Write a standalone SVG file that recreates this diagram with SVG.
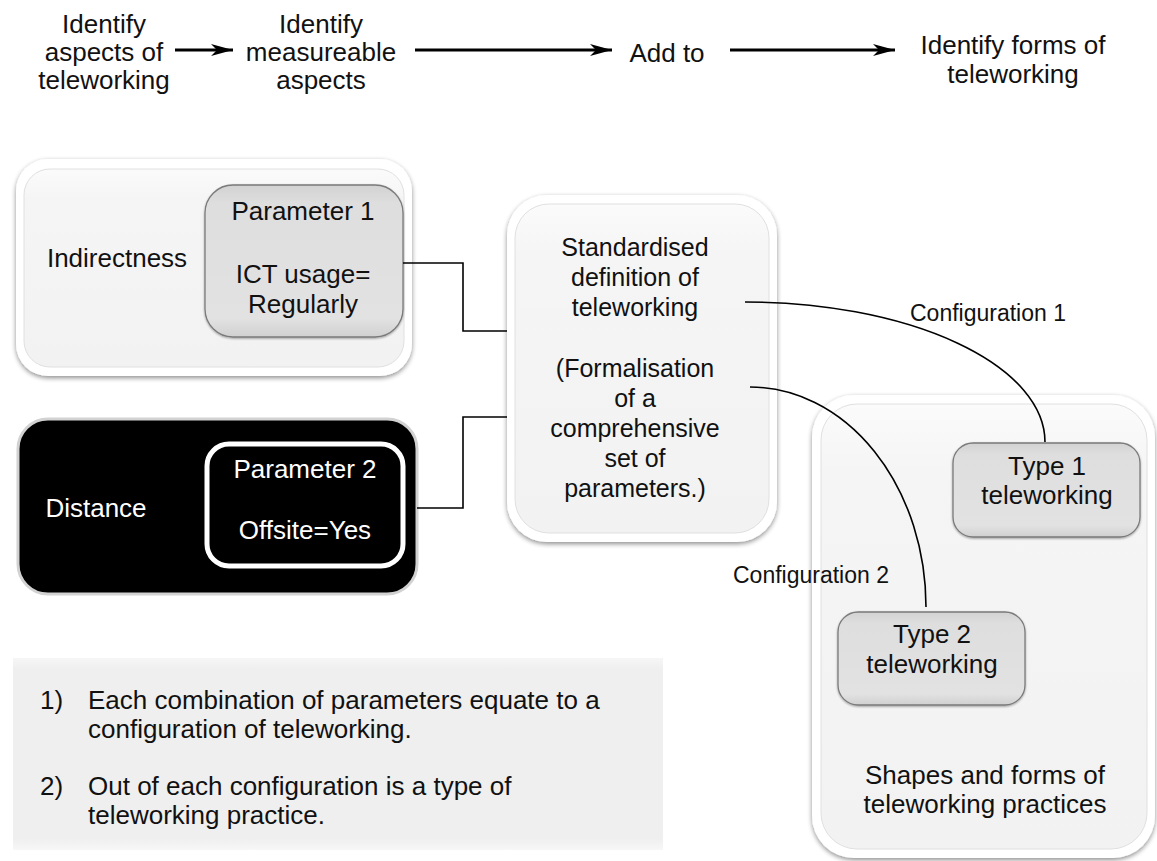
<svg xmlns="http://www.w3.org/2000/svg" width="1157" height="861" viewBox="0 0 1157 861">
<style>
  text { font-family: "Liberation Sans", Arial, sans-serif; fill: #111; }
  .t26 { font-size: 26px; text-anchor: middle; }
  .t25 { font-size: 25px; text-anchor: middle; }
  .cfg { font-size: 23px; }
  .note { font-size: 26px; }
  .wt { fill: #fff; }
  .flow { stroke: #000; stroke-width: 3; fill: none; marker-end: url(#ah); }
  .conn { stroke: #000; stroke-width: 1.6; fill: none; }
  .rim { fill: #fff; filter: url(#sh); }
  .pale { fill: url(#paleG); stroke: #e0e0e0; stroke-width: 1; }
  .gbox { fill: url(#grayG); stroke: #7a7a7a; stroke-width: 1.3; filter: url(#sh2); }
</style>
<defs>
  <marker id="ah" viewBox="0 0 22 12" refX="22" refY="6" markerWidth="22" markerHeight="12" markerUnits="userSpaceOnUse" orient="auto">
    <path d="M0,0 L22,6 L0,12 L6,6 Z" fill="#000"/>
  </marker>
  <filter id="sh" x="-10%" y="-10%" width="120%" height="120%">
    <feGaussianBlur in="SourceAlpha" stdDeviation="2.5"/>
    <feOffset dx="0" dy="1.5"/>
    <feComponentTransfer><feFuncA type="linear" slope="0.45"/></feComponentTransfer>
    <feMerge><feMergeNode/><feMergeNode in="SourceGraphic"/></feMerge>
  </filter>
  <filter id="sh2" x="-10%" y="-10%" width="120%" height="120%">
    <feGaussianBlur in="SourceAlpha" stdDeviation="1.2"/>
    <feOffset dx="0" dy="1"/>
    <feComponentTransfer><feFuncA type="linear" slope="0.35"/></feComponentTransfer>
    <feMerge><feMergeNode/><feMergeNode in="SourceGraphic"/></feMerge>
  </filter>
  <linearGradient id="paleG" x1="0" y1="0" x2="0" y2="1">
    <stop offset="0" stop-color="#fbfbfb"/>
    <stop offset="0.15" stop-color="#f5f5f5"/>
    <stop offset="1" stop-color="#f2f2f2"/>
  </linearGradient>
  <linearGradient id="grayG" x1="0" y1="0" x2="0" y2="1">
    <stop offset="0" stop-color="#d2d2d2"/>
    <stop offset="0.12" stop-color="#dedede"/>
    <stop offset="0.88" stop-color="#e2e2e2"/>
    <stop offset="1" stop-color="#d0d0d0"/>
  </linearGradient>
  <linearGradient id="noteG" x1="0" y1="0" x2="0" y2="1">
    <stop offset="0" stop-color="#f6f6f6"/>
    <stop offset="0.06" stop-color="#efefef"/>
    <stop offset="0.94" stop-color="#efefef"/>
    <stop offset="1" stop-color="#f7f7f7"/>
  </linearGradient>
</defs>

<!-- top process row -->
<g id="step1">
  <text class="t26" x="104" y="33">Identify</text>
  <text class="t26" x="104" y="61">aspects of</text>
  <text class="t26" x="104" y="89">teleworking</text>
</g>
<g id="step2">
  <text class="t26" x="321" y="33">Identify</text>
  <text class="t26" x="321" y="61">measureable</text>
  <text class="t26" x="321" y="89">aspects</text>
</g>
<g id="step3">
  <text class="t26" x="667" y="62">Add to</text>
</g>
<g id="step4">
  <text class="t26" x="1013" y="54">Identify forms of</text>
  <text class="t26" x="1013" y="83">teleworking</text>
</g>

<!-- indirectness -->
<g id="indirectness">
  <rect class="rim" x="16" y="159" width="396" height="217" rx="32"/>
  <rect class="pale" x="24" y="169" width="380" height="198" rx="26"/>
  <text class="t26" x="117" y="267">Indirectness</text>
</g>
<g id="parameter1">
  <rect class="gbox" x="205" y="185" width="198" height="152" rx="28"/>
  <text class="t26" x="303" y="220">Parameter 1</text>
  <text class="t26" x="303" y="283">ICT usage=</text>
  <text class="t26" x="303" y="313">Regularly</text>
</g>

<!-- distance -->
<g id="distance">
  <rect x="18" y="419" width="399" height="175" rx="30" fill="#000" stroke="#d2d2d2" stroke-width="3"/>
  <text class="t26 wt" x="96" y="517">Distance</text>
</g>
<g id="parameter2">
  <rect x="207" y="444" width="196" height="122" rx="22" fill="#000" stroke="#fff" stroke-width="5"/>
  <text class="t26 wt" x="305" y="478">Parameter 2</text>
  <text class="t26 wt" x="305" y="539">Offsite=Yes</text>
</g>

<!-- standardised definition -->
<g id="definition">
  <rect class="rim" x="507" y="195" width="270" height="347" rx="40"/>
  <rect class="pale" x="515" y="204" width="254" height="329" rx="34"/>
  <text class="t25" x="635" y="256">Standardised</text>
  <text class="t25" x="635" y="286">definition of</text>
  <text class="t25" x="635" y="316">teleworking</text>
  <text class="t25" x="635" y="377">(Formalisation</text>
  <text class="t25" x="635" y="407">of a</text>
  <text class="t25" x="635" y="437">comprehensive</text>
  <text class="t25" x="635" y="467">set of</text>
  <text class="t25" x="635" y="497">parameters.)</text>
</g>

<!-- shapes and forms -->
<g id="shapes">
  <rect class="rim" x="812" y="395" width="343" height="463" rx="42"/>
  <rect class="pale" x="821" y="404" width="326" height="445" rx="36"/>
  <text class="t26" x="985" y="784">Shapes and forms of</text>
  <text class="t26" x="985" y="813">teleworking practices</text>
</g>
<g id="type1">
  <rect class="gbox" x="953" y="443" width="187" height="94" rx="20"/>
  <text class="t26" x="1047" y="475">Type 1</text>
  <text class="t26" x="1047" y="504">teleworking</text>
</g>
<g id="type2">
  <rect class="gbox" x="838" y="612" width="187" height="93" rx="20"/>
  <text class="t26" x="932" y="643">Type 2</text>
  <text class="t26" x="932" y="673">teleworking</text>
</g>

<!-- notes -->
<g id="notes">
  <rect x="13" y="658" width="650" height="192" fill="url(#noteG)"/>
  <text class="note" x="40" y="709">1)</text>
  <text class="note" x="88" y="709">Each combination of parameters equate to a</text>
  <text class="note" x="88" y="738">configuration of teleworking.</text>
  <text class="note" x="40" y="795">2)</text>
  <text class="note" x="88" y="795">Out of each configuration is a type of</text>
  <text class="note" x="88" y="824">teleworking practice.</text>
</g>

<!-- connectors -->
<g id="connectors">
  <line class="flow" x1="175" y1="50" x2="233" y2="50"/>
  <line class="flow" x1="415" y1="50" x2="612" y2="50"/>
  <line class="flow" x1="730" y1="50" x2="895" y2="50"/>
  <path class="conn" d="M403,263 H463 V331 H507"/>
  <path class="conn" d="M417,508 H463 V417 H507"/>
  <path class="conn" d="M745,302 A300,140 0 0 1 1045,442"/>
  <path class="conn" d="M750,387 A176,220 0 0 1 926,607"/>
  <text class="cfg" x="910" y="321">Configuration 1</text>
  <text class="cfg" x="733" y="583">Configuration 2</text>
</g>
</svg>
